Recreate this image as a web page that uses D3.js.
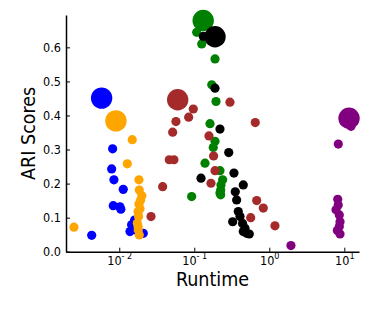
<!DOCTYPE html>
<html>
<head>
<meta charset="utf-8">
<script src="https://cdn.jsdelivr.net/npm/d3@7"></script>
<style>
  body { margin: 0; background: #fff; }
  svg { display: block; }
  text { font-family: "DejaVu Sans Condensed", "DejaVu Sans", sans-serif; fill: #000; }
</style>
</head>
<body>
<svg id="chart"></svg>
<script>
// [runtime, ARI] pairs
const bluePoints = [
  [0.00816, 0.302], [0.00792, 0.243], [0.00849, 0.211], [0.0113, 0.183],
  [0.00832, 0.135], [0.0102, 0.132], [0.0105, 0.125], [0.00429, 0.048],
  [0.0146, 0.079], [0.0139, 0.059], [0.0209, 0.054], [0.0160, 0.093], [0.0172, 0.062]
];
const orangePoints = [
  [0.0149, 0.329], [0.0128, 0.258], [0.00249, 0.072],
  [0.0183, 0.211], [0.0185, 0.181], [0.0200, 0.164], [0.0193, 0.152], [0.0183, 0.140],
  [0.0189, 0.126], [0.0178, 0.117], [0.0181, 0.103], [0.0174, 0.084], [0.0178, 0.074],
  [0.0179, 0.064], [0.0185, 0.049]
];
const brownPoints = [
  [0.097, 0.419], [0.0842, 0.395], [0.057, 0.382], [0.0515, 0.351], [0.0464, 0.270],
  [0.0536, 0.270], [0.0379, 0.191], [0.0265, 0.103], [0.299, 0.439], [0.65, 0.379],
  [0.157, 0.340], [0.181, 0.281], [0.189, 0.238], [0.167, 0.201], [0.679, 0.150],
  [0.832, 0.128], [0.565, 0.100], [1.19, 0.076]
];
const greenPoints = [
  [0.1077, 0.644], [0.1256, 0.610], [0.189, 0.566], [0.171, 0.490], [0.195, 0.441],
  [0.162, 0.376], [0.189, 0.324], [0.179, 0.306], [0.139, 0.260], [0.220, 0.238],
  [0.239, 0.211], [0.227, 0.196], [0.225, 0.181], [0.220, 0.172], [0.225, 0.167],
  [0.0923, 0.162]
];
const blackPoints = [
  [0.132, 0.632], [0.189, 0.480], [0.220, 0.360], [0.288, 0.291], [0.338, 0.231],
  [0.123, 0.216], [0.450, 0.196], [0.352, 0.176], [0.367, 0.152], [0.386, 0.118],
  [0.407, 0.103], [0.325, 0.088], [0.440, 0.083], [0.474, 0.069], [0.500, 0.054],
  [0.541, 0.052], [0.450, 0.059]
];
const purplePoints = [
  [12.3, 0.368], [8.32, 0.316], [1.945, 0.018],
  [8.17, 0.154], [8.30, 0.137], [7.75, 0.123], [8.58, 0.108], [8.77, 0.088],
  [8.58, 0.074], [8.07, 0.062], [8.77, 0.052]
];
// one large marker per group
const groupNames = ["blue", "orange", "green", "black", "brown", "purple"];
const bigPoints = [
  [0.00582, 0.451], [0.00903, 0.384], [0.1315, 0.679],
  [0.189, 0.631], [0.0601, 0.446], [11.56, 0.392]
];
const xTickPowers = [-2, -1, 0, 1];
const yTicks = [0, 0.1, 0.2, 0.3, 0.4, 0.5, 0.6];

const colors = { blue: "#0000ff", orange: "#ffa500", green: "#008000", black: "#000000", brown: "#a52a2a", purple: "#800080" };
const pointsByGroup = { blue: bluePoints, orange: orangePoints, green: greenPoints, black: blackPoints, brown: brownPoints, purple: purplePoints };

const W = 374, H = 312;
const margin = { left: 66, top: 15, right: 15, bottom: 60.3 };
const innerW = W - margin.left - margin.right;
const innerH = H - margin.top - margin.bottom;

const svg = d3.select("#chart").attr("width", W).attr("height", H);
const g = svg.append("g").attr("transform", `translate(${margin.left},${margin.top})`);

const x = d3.scaleLog().domain([0.00195, 15.7]).range([0, innerW]);
const y = d3.scaleLinear().domain([0, 0.695]).range([innerH, 0]);

// points
groupNames.forEach((name, i) => {
  const layer = g.append("g");
  layer.selectAll("circle.small").data(pointsByGroup[name]).enter().append("circle")
    .attr("class", "small")
    .attr("cx", d => x(d[0])).attr("cy", d => y(d[1])).attr("r", 4.6)
    .attr("fill", colors[name]);
  layer.append("circle")
    .attr("cx", x(bigPoints[i][0])).attr("cy", y(bigPoints[i][1])).attr("r", 10.7)
    .attr("fill", colors[name]);
});

// x axis
const xAxis = g.append("g").attr("transform", `translate(0,${innerH})`)
  .call(d3.axisBottom(x).tickValues(xTickPowers.map(p => Math.pow(10, p))).tickSize(-4).tickSizeOuter(0).tickFormat(""));
xAxis.select(".domain").attr("stroke", "#000").attr("stroke-width", 1.5);
xAxis.selectAll(".tick line").attr("stroke", "#000").attr("stroke-width", 1);
xAxis.selectAll(".tick").each(function(d, i) {
  const t = d3.select(this).append("text")
    .attr("y", 13.5).attr("text-anchor", "middle").style("font-size", "12.5px");
  t.append("tspan").text("10");
  t.append("tspan").attr("dy", -6).style("font-size", "9px").text(xTickPowers[i] < 0 ? "- " + (-xTickPowers[i]) : String(xTickPowers[i]));
});

// y axis
const yAxis = g.append("g")
  .call(d3.axisLeft(y).tickValues(yTicks).tickSize(-4).tickSizeOuter(0).tickPadding(5).tickFormat(d3.format(".1f")));
yAxis.select(".domain").attr("stroke", "#000").attr("stroke-width", 1.5);
yAxis.selectAll(".tick line").attr("stroke", "#000").attr("stroke-width", 1);
yAxis.selectAll(".tick text").style("font-size", "12.5px").attr("fill", "#000");

// labels
svg.append("text").attr("x", margin.left + innerW / 2).attr("y", 286)
  .attr("text-anchor", "middle").style("font-size", "19.5px").text("Runtime");
svg.append("text").attr("transform", `translate(35,${margin.top + innerH / 2}) rotate(-90)`)
  .attr("text-anchor", "middle").style("font-size", "19.5px").text("ARI Scores");
</script>
</body>
</html>
